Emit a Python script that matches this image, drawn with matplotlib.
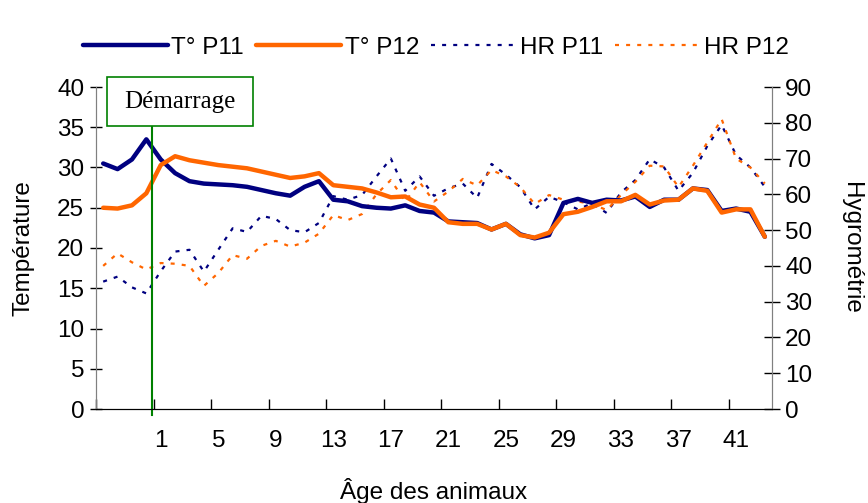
import numpy as np
import matplotlib
matplotlib.use('Agg')
import matplotlib.pyplot as plt
from matplotlib.patches import Rectangle

plt.rcParams['font.family'] = ['Liberation Sans', 'DejaVu Sans']

# age of the animals (days), one category per point
ages = list(range(-3, 44))

t_p11 = [30.5, 29.8, 31.0, 33.5, 31.0, 29.3, 28.3, 28.0, 27.9, 27.8,
         27.6, 27.2, 26.8, 26.5, 27.6, 28.3, 26.0, 25.8, 25.2, 25.0,
         24.9, 25.3, 24.6, 24.4, 23.3, 23.2, 23.1, 22.3, 23.0, 21.7,
         21.2, 21.6, 25.6, 26.1, 25.6, 26.0, 25.9, 26.4, 25.1, 26.0,
         26.0, 27.4, 27.2, 24.6, 24.9, 24.5, 21.4]
t_p12 = [25.0, 24.9, 25.3, 26.8, 30.3, 31.4, 30.9, 30.6, 30.3, 30.1,
         29.9, 29.5, 29.1, 28.7, 28.9, 29.3, 27.8, 27.6, 27.4, 26.9,
         26.3, 26.4, 25.4, 25.0, 23.2, 23.0, 23.0, 22.3, 23.0, 21.6,
         21.3, 21.9, 24.2, 24.5, 25.1, 25.8, 25.8, 26.6, 25.4, 25.9,
         26.0, 27.4, 27.1, 24.4, 24.8, 24.8, 21.4]
hr_p11 = [35.6, 37.0, 34.0, 32.3, 38.5, 44.0, 44.5, 38.4, 44.5, 50.5,
          49.5, 54.0, 53.1, 50.0, 49.4, 52.0, 59.5, 58.5, 59.8, 65.0,
          70.0, 61.0, 65.0, 59.6, 61.7, 63.0, 59.0, 68.5, 65.5, 62.0,
          55.8, 59.3, 57.8, 55.8, 57.5, 54.8, 60.5, 64.0, 69.8, 67.5,
          61.0, 66.0, 73.5, 79.4, 71.0, 67.5, 62.1]
hr_p12 = [40.0, 43.5, 41.0, 39.0, 40.8, 40.6, 40.0, 34.4, 38.0, 43.0,
          42.0, 45.6, 47.0, 45.4, 46.5, 49.0, 54.2, 52.8, 54.5, 60.0,
          64.0, 58.0, 63.4, 58.0, 60.8, 64.3, 62.5, 66.8, 65.0, 62.0,
          57.3, 59.8, 58.5, 58.0, 57.3, 55.6, 59.8, 63.5, 68.0, 67.8,
          62.0, 68.0, 74.5, 81.0, 70.0, 67.5, 63.0]

shown_ages = list(range(1, 42, 4))
start_pos = 3.4  # "Démarrage" marker, between day -1 and day 0

navy = '#000080'
orange = '#ff6600'
green = '#008000'
fs = 17.5

fig = plt.figure(figsize=(8.68, 5.03), dpi=100)
ax = fig.add_axes([96/868, 1 - 409/503, 676/868, 322/503])
ax2 = ax.twinx()
ax.set_zorder(ax2.get_zorder() + 1)
ax.patch.set_visible(False)

x = np.arange(len(ages))
l3, = ax2.plot(x, hr_p11, color=navy, lw=1.6, ls=(0, (1.8, 3.2)), label='HR P11')
l4, = ax2.plot(x, hr_p12, color=orange, lw=1.6, ls=(0, (1.8, 3.2)), label='HR P12')
l1, = ax.plot(x, t_p11, color=navy, lw=3.2, solid_capstyle='round',
              solid_joinstyle='round', label='T° P11')
l2, = ax.plot(x, t_p12, color=orange, lw=3.2, solid_capstyle='round',
              solid_joinstyle='round', label='T° P12')

ax.set_xlim(-0.5, len(ages) - 0.5)
ax.set_ylim(0, 40)
ax2.set_ylim(0, 90)

# start marker and its box
ax.plot([start_pos, start_pos], [-0.7, 35.2], color=green, lw=1.5, clip_on=False)
ax.add_patch(Rectangle((0.26, 35.2), 10.16, 6.0, facecolor='white',
                       edgecolor=green, lw=1.2, clip_on=False, zorder=5))
ax.text(5.34, 38.15, 'Démarrage', family=['Liberation Serif', 'DejaVu Serif'],
        fontsize=18, ha='center', va='center', zorder=6, clip_on=False)

# axes styling
for a in (ax, ax2):
    a.spines['top'].set_visible(False)
    a.spines['left'].set_color('#808080')
    a.spines['right'].set_color('#808080')
ax.set_yticks(range(0, 41, 5))
ax2.set_yticks(range(0, 91, 10))
ax.tick_params(axis='y', direction='inout', length=9, width=1, labelsize=fs, pad=4)
ax2.tick_params(axis='y', direction='inout', length=11, width=1, labelsize=fs, pad=4)

ax.set_xticks(np.arange(-0.5, len(ages) - 1, 4))
ax.set_xticklabels([])
ax.set_xticks([ages.index(a) for a in shown_ages], minor=True)
ax.set_xticklabels([str(a) for a in shown_ages], minor=True)
ax.tick_params(axis='x', which='major', direction='in', length=7, width=1)
ax.tick_params(axis='x', which='minor', length=0, labelsize=fs, pad=15)

ax.set_xlabel('Âge des animaux', fontsize=fs, labelpad=19)
ax.set_ylabel('Température', fontsize=fs, labelpad=16)
ax2.set_ylabel('Hygrométrie', fontsize=fs, rotation=270, labelpad=36)

fig.legend(handles=[l1, l2, l3, l4], loc='center', bbox_to_anchor=(0.502, 0.905),
           ncol=4, frameon=False, fontsize=fs, handlelength=3.5,
           handletextpad=0.15, columnspacing=0.5)

fig.savefig('out.png', dpi=100)
